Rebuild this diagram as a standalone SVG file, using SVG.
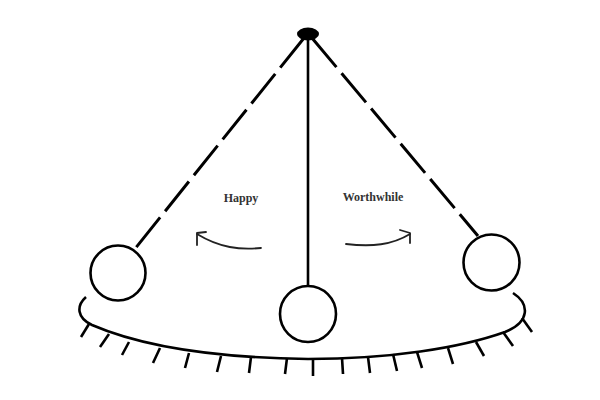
<svg xmlns="http://www.w3.org/2000/svg" width="600" height="400" viewBox="0 0 600 400">
<style>
.s{fill:none;stroke:#000;stroke-width:2.6;stroke-linecap:butt}
.d{fill:none;stroke:#000;stroke-width:3;stroke-dasharray:38 8}
.b{fill:#fff;stroke:#000;stroke-width:2.6}
.t{font-family:"Liberation Serif","Times New Roman",serif;font-weight:bold;font-size:12px;fill:#333;text-anchor:middle}
.a{fill:none;stroke:#222;stroke-width:1.8;stroke-linecap:round;stroke-linejoin:round}
</style>
<rect width="600" height="400" fill="#fff"/>
<g id="connectors">
<line class="d" x1="304" y1="38" x2="134" y2="250"/>
<line class="d" x1="312" y1="38" x2="478" y2="236"/>
<line class="s" x1="308" y1="36" x2="308" y2="286"/>
</g>
<g id="pivot"><ellipse cx="308" cy="34" rx="11" ry="6.5" fill="#000"/></g>
<g id="bob-left"><circle class="b" cx="118" cy="273" r="27.5"/></g>
<g id="bob-center"><circle class="b" cx="308" cy="314" r="28"/></g>
<g id="bob-right"><circle class="b" cx="491.5" cy="262.5" r="28"/></g>
<g id="base">
<path class="s" d="M86,297 C76,306 77,318 92,325 C150,350 230,358 308,359 C390,359 460,348 505,332 C530,322 530,304 513,293"/>
<g class="s">
<line x1="89" y1="324" x2="81" y2="337"/>
<line x1="109" y1="334" x2="100" y2="347"/>
<line x1="129" y1="342" x2="122" y2="355"/>
<line x1="160" y1="348" x2="153" y2="363"/>
<line x1="189" y1="353" x2="185" y2="368"/>
<line x1="221" y1="356" x2="217" y2="372"/>
<line x1="251" y1="357" x2="249" y2="373"/>
<line x1="287" y1="358" x2="285" y2="374"/>
<line x1="313" y1="359" x2="313" y2="376"/>
<line x1="342" y1="358" x2="343" y2="374"/>
<line x1="368" y1="357" x2="370" y2="373"/>
<line x1="393" y1="354" x2="397" y2="371"/>
<line x1="417" y1="352" x2="422" y2="368"/>
<line x1="448" y1="348" x2="453" y2="364"/>
<line x1="476" y1="342" x2="484" y2="356"/>
<line x1="503" y1="332" x2="513" y2="346"/>
<line x1="522" y1="318" x2="532" y2="332"/>
</g>
</g>
<g id="label-happy">
<text class="t" x="241" y="202">Happy</text>
<path class="a" d="M261,248 C240,250 220,248 197,234"/>
<path class="a" d="M206,232 L197,233 L197,245"/>
</g>
<g id="label-worthwhile">
<text class="t" x="373" y="201">Worthwhile</text>
<path class="a" d="M346,244 C372,247 392,245 410,234"/>
<path class="a" d="M400,230 L410,233 L410,243"/>
</g>
</svg>
